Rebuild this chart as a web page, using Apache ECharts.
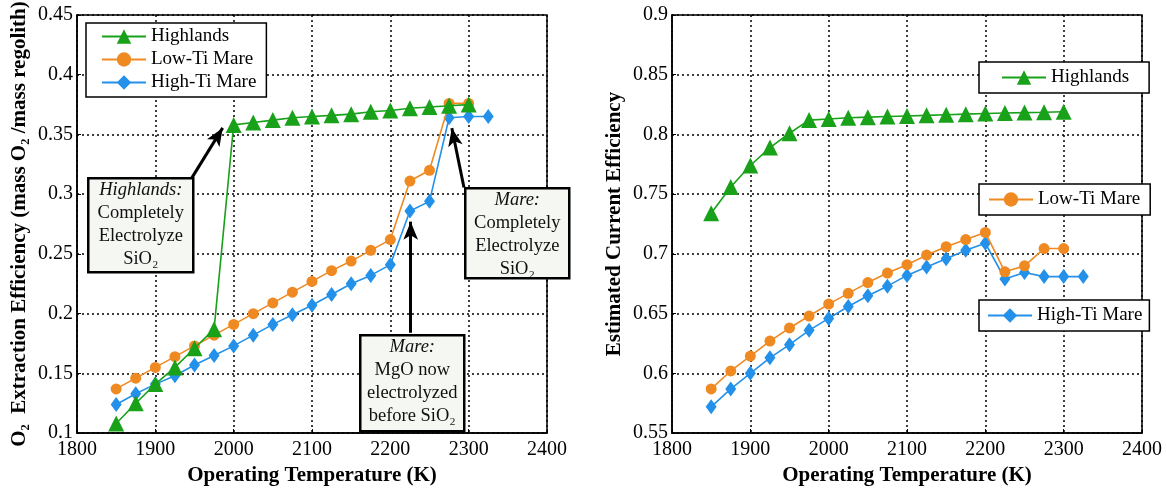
<!DOCTYPE html>
<html>
<head>
<meta charset="utf-8">
<script src="https://cdn.jsdelivr.net/npm/echarts@6/dist/echarts.min.js"></script>
<style>
  html, body { margin: 0; padding: 0; background: #fff; }
  #chart { width: 1167px; height: 491px; }
</style>
</head>
<body>
<div id="chart"></div>
<script>
// temperatures (K)
var temps = [1850, 1875, 1900, 1925, 1950, 1975, 2000, 2025, 2050, 2075,
  2100, 2125, 2150, 2175, 2200, 2225, 2250, 2275, 2300];
var tempsHighTi = [1850, 1875, 1900, 1925, 1950, 1975, 2000, 2025, 2050, 2075,
  2100, 2125, 2150, 2175, 2200, 2225, 2250, 2275, 2300, 2325];

// left: O2 extraction efficiency
var o2Highlands = [0.108, 0.125, 0.141, 0.155, 0.171, 0.187, 0.358, 0.360, 0.362, 0.364,
  0.365, 0.366, 0.367, 0.369, 0.370, 0.372, 0.373, 0.374, 0.375];
var o2LowTi = [0.137, 0.146, 0.155, 0.164, 0.173, 0.182, 0.191, 0.200, 0.209, 0.218,
  0.227, 0.236, 0.244, 0.253, 0.262, 0.311, 0.320, 0.376, 0.376];
var o2HighTi = [0.124, 0.133, 0.141, 0.148, 0.157, 0.165, 0.173, 0.182, 0.191, 0.199,
  0.207, 0.216, 0.225, 0.232, 0.241, 0.286, 0.294, 0.364, 0.365, 0.365];

// right: estimated current efficiency
var ceHighlands = [0.734, 0.756, 0.774, 0.789, 0.801, 0.812, 0.813, 0.814, 0.8145, 0.815,
  0.8155, 0.816, 0.8165, 0.817, 0.8175, 0.818, 0.8183, 0.8186, 0.819];
var ceLowTi = [0.587, 0.602, 0.6145, 0.627, 0.638, 0.648, 0.658, 0.667, 0.676, 0.684,
  0.691, 0.699, 0.706, 0.712, 0.718, 0.685, 0.690, 0.7045, 0.7045];
var ceHighTi = [0.572, 0.587, 0.600, 0.613, 0.624, 0.636, 0.646, 0.656, 0.665, 0.673,
  0.682, 0.689, 0.696, 0.703, 0.709, 0.679, 0.6845, 0.681, 0.681, 0.681];

var xTicks = [1800, 2400, 100];
var yTicksLeft = [0.1, 0.45, 0.05];
var yTicksRight = [0.55, 0.9, 0.05];

var GREEN = "#19a119";
var ORANGE = "#ef8a23";
var BLUE = "#2390ea";
var FONT = "Liberation Serif";

function pairs(xs, ys) {
  return ys.map(function (v, i) { return [xs[i], v]; });
}

function makeX(idx) {
  return {
    type: "value", gridIndex: idx,
    min: xTicks[0], max: xTicks[1], interval: xTicks[2],
    name: "Operating Temperature (K)", nameLocation: "middle", nameGap: 27,
    nameTextStyle: { fontFamily: FONT, fontWeight: "bold", fontSize: 21, color: "#000" },
    axisLine: { lineStyle: { color: "#000", width: 1.5 } },
    axisTick: { show: true, inside: true, length: 4, lineStyle: { color: "#000" } },
    axisLabel: { fontFamily: FONT, fontSize: 20, color: "#000", margin: 7,
      formatter: function (v) { return String(v); } },
    splitLine: { show: true, lineStyle: { color: "#000", width: 1.5, type: [2, 3] } }
  };
}

function makeY(idx, ticks, title) {
  return {
    type: "value", gridIndex: idx,
    min: ticks[0], max: ticks[1], interval: ticks[2],
    name: title, nameLocation: "middle", nameGap: 47,
    nameTextStyle: { fontFamily: FONT, fontWeight: "bold", fontSize: 21, color: "#000" },
    axisLine: { show: true, lineStyle: { color: "#000", width: 1.5 } },
    axisTick: { show: true, inside: true, length: 4, lineStyle: { color: "#000" } },
    axisLabel: { fontFamily: FONT, fontSize: 20, color: "#000", margin: 4 },
    splitLine: { show: true, lineStyle: { color: "#000", width: 1.5, type: [2, 3] } }
  };
}

function line(name, idx, xs, ys, color, symbol, size, z) {
  return {
    name: name, type: "line", xAxisIndex: idx, yAxisIndex: idx,
    data: pairs(xs, ys), symbol: symbol, symbolSize: size, showSymbol: true,
    z: z, animation: false,
    lineStyle: { color: color, width: 1.6 },
    itemStyle: { color: color, borderWidth: 0 }
  };
}

function arrow(from, to) {
  return [
    { coord: from, symbol: "none" },
    { coord: to, symbol: "arrow", symbolSize: [11, 18] }
  ];
}

// annotation box (pixel layout)
function note(left, top, w, h, head) {
  return {
    type: "group", left: left, top: top,
    children: [
      { type: "rect", z: 100, shape: { x: 0, y: 0, width: w, height: h },
        style: { fill: "#f5f7f3", stroke: "#000", lineWidth: 2.5 } },
      { type: "text", z: 101, x: w / 2, y: 0,
        style: {
          text: head.join("\n"),
          align: "center", verticalAlign: "top",
          fontFamily: FONT, fontSize: 18.5, lineHeight: 23, fill: "#111",
          rich: {
            i: { fontFamily: FONT, fontStyle: "italic", fontSize: 18.5, lineHeight: 23 }
          }
        } }
    ]
  };
}

var legendText = { fontFamily: FONT, fontSize: 19, color: "#000", lineHeight: 19 };
var legendBase = {
  orient: "vertical", itemWidth: 44, itemHeight: 18,
  borderColor: "#000", borderWidth: 1.5, backgroundColor: "#fff",
  textStyle: legendText, z: 50
};

var chart = echarts.init(document.getElementById("chart"), null, { renderer: "canvas" });

var seriesLeftHighlands = line("Highlands", 0, temps, o2Highlands, GREEN, "triangle", 16, 5);
seriesLeftHighlands.markLine = {
  silent: true, animation: false, label: { show: false },
  lineStyle: { color: "#000", width: 3, type: "solid" },
  data: [
    arrow([1946, 0.313], [1986, 0.3555]),
    arrow([2226, 0.184], [2226, 0.277]),
    arrow([2294, 0.3056], [2278.5, 0.3553])
  ]
};

chart.setOption({
  animation: false,
  grid: [
    { left: 77, right: 620, top: 15, bottom: 56, show: true, borderColor: "#000", borderWidth: 1.5, containLabel: false },
    { left: 672, right: 25, top: 15, bottom: 56, show: true, borderColor: "#000", borderWidth: 1.5, containLabel: false }
  ],
  xAxis: [makeX(0), makeX(1)],
  yAxis: [
    makeY(0, yTicksLeft, "O₂  Extraction Efficiency (mass O₂ /mass regolith)"),
    makeY(1, yTicksRight, "Estimated Current Efficiency")
  ],
  legend: [
    Object.assign({}, legendBase, {
      left: 86, top: 23, itemGap: 4, padding: [4, 10, 5, 15],
      data: ["Highlands", "Low-Ti Mare", "High-Ti Mare"]
    }),
    Object.assign({}, legendBase, {
      left: 979, top: 62, padding: [6, 20, 6, 22], data: ["Highlands"]
    }),
    Object.assign({}, legendBase, {
      left: 979, top: 184, padding: [6, 10, 6, 9], data: ["Low-Ti Mare"]
    }),
    Object.assign({}, legendBase, {
      left: 979, top: 300, padding: [6, 7, 6, 8], data: ["High-Ti Mare"]
    })
  ],
  series: [
    line("High-Ti Mare", 0, tempsHighTi, o2HighTi, BLUE, "diamond", [11, 15], 3),
    line("Low-Ti Mare", 0, temps, o2LowTi, ORANGE, "circle", 11, 4),
    seriesLeftHighlands,
    line("High-Ti Mare", 1, tempsHighTi, ceHighTi, BLUE, "diamond", [11, 15], 3),
    line("Low-Ti Mare", 1, temps, ceLowTi, ORANGE, "circle", 11, 4),
    line("Highlands", 1, temps, ceHighlands, GREEN, "triangle", 16, 5)
  ],
  graphic: [
    note(87, 177, 105, 94, ["{i|Highlands:}", "Completely", "Electrolyze", "SiO₂"]),
    note(359, 334, 104, 96, ["{i|Mare:}", "MgO now", "electrolyzed", "before SiO₂"]),
    note(464, 187, 104, 90, ["{i|Mare:}", "Completely", "Electrolyze", "SiO₂"])
  ]
});
</script>
</body>
</html>
